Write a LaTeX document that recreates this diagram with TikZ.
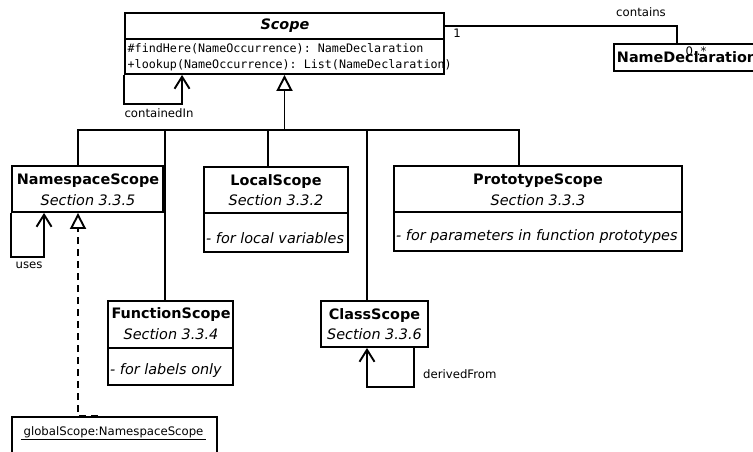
\documentclass[tikz,border=0pt]{standalone}
\usepackage{fontspec}
\setmainfont{DejaVu Sans}
\setmonofont{DejaVu Sans Mono}
\usetikzlibrary{arrows.meta,calc}
\begin{document}
\begin{tikzpicture}[x=1pt,y=-1pt,
  box/.style={draw,line width=1.9pt,rectangle,inner sep=0pt},
  ttl/.style={font=\fontsize{14.4}{16}\selectfont\bfseries, inner sep=0pt},
  sec/.style={font=\fontsize{14.4}{16}\selectfont\itshape, inner sep=0pt},
  note/.style={font=\fontsize{14.4}{16}\selectfont\itshape, inner sep=0pt, anchor=west},
  meth/.style={font=\fontsize{11.7}{13}\selectfont\ttfamily, inner sep=0pt, anchor=west},
  lbl/.style={font=\fontsize{11.7}{13}\selectfont, inner sep=0pt},
  conn/.style={line width=1.9pt},
  assoc/.style={conn, -{Straight Barb[length=12pt,width=15pt,line width=1.9pt]}},
  gen/.style={conn, -{Triangle[open,length=16pt,width=16pt,line width=1.9pt,fill=white]}},
  real/.style={gen, dash pattern=on 7pt off 5pt},
]
\useasboundingbox (0,0) rectangle (753,451);
\clip (0,0) rectangle (753,451);

% Scope
\node[box, minimum width=319pt, minimum height=61pt] (scope) at (284.5,43.5) {};
\draw[conn] (scope.west |- 0,39) -- (scope.east |- 0,39);
\node[ttl, font=\fontsize{14.4}{16}\selectfont\bfseries\itshape] (scopet) at (285,26) {Scope};
\node[meth] (m1) at (127.5,49) {\#findHere(NameOccurrence): NameDeclaration};
\node[meth] (m2) at (127.5,65) {+lookup(NameOccurrence): List(NameDeclaration)};

% NameDeclaration
\node[box, ttl, anchor=west, minimum height=27pt, inner xsep=3pt] (nd) at (613,57.5) {NameDeclaration};
\coordinate (scA) at ([yshift=17.5pt]scope.east);
\coordinate (ndA) at ([xshift=64pt]nd.north west);
\draw[conn] (scA) -| (ndA);
\node[lbl] (contains) at (641,12) {contains};
\node[lbl] (one) at (457,33) {1};
\node[lbl] (mult) at (696,51) {0..*};

% containedIn
\coordinate (ciA) at ([yshift=-29pt]scope.south west);
\coordinate (ciB) at ([xshift=58pt]scope.south west);
\draw[assoc] (scope.south west) -- (ciA) -| (ciB);
\node[lbl] (ci) at (159,113) {containedIn};

% NamespaceScope
\node[box, minimum width=151pt, minimum height=46pt] (ns) at (87.5,189) {};
\node[ttl] (nst) at (88,181) {NamespaceScope};
\node[sec] (nss) at (88,200) {Section 3.3.5};

% LocalScope
\node[box, minimum width=144pt, minimum height=85pt] (local) at (276,209.5) {};
\draw[conn] (local.west |- 0,213) -- (local.east |- 0,213);
\node[ttl] (lst) at (276,182) {LocalScope};
\node[sec] (lss) at (276,200) {Section 3.3.2};
\node[note] (lsn) at (206,238) {- for local variables};

% PrototypeScope
\node[box, minimum width=288pt, minimum height=85pt] (proto) at (538,208.5) {};
\draw[conn] (proto.west |- 0,212) -- (proto.east |- 0,212);
\node[ttl] (pst) at (538,181) {PrototypeScope};
\node[sec] (pss) at (538,200) {Section 3.3.3};
\node[note] (psn) at (396,237) {- for parameters in function prototypes};

% FunctionScope
\node[box, minimum width=125pt, minimum height=84pt] (func) at (170.5,343) {};
\draw[conn] (func.west |- 0,348) -- (func.east |- 0,348);
\node[ttl] (fst) at (171,315) {FunctionScope};
\node[sec] (fss) at (171,334) {Section 3.3.4};
\node[note] (fsn) at (110,371) {- for labels only};

% ClassScope
\node[box, minimum width=107pt, minimum height=46pt] (class) at (374.5,324) {};
\node[ttl] (cst) at (374.5,316) {ClassScope};
\node[sec] (css) at (374.5,334) {Section 3.3.6};

% generalization tree
\coordinate (hub) at (284.5,130);
\draw[gen] (hub) -- (scope.south);
\coordinate (nsT) at ([xshift=-9.5pt]ns.north);
\coordinate (prT) at ([xshift=-19pt]proto.north);
\coordinate (loT) at ([xshift=-8pt]local.north);
\coordinate (fuT) at ([xshift=-5.5pt]func.north);
\coordinate (clT) at ([xshift=-7.5pt]class.north);
\draw[conn] (nsT) |- (hub) -| (prT);
\draw[conn] (loT) -- (loT |- hub);
\draw[conn] (fuT) -- (fuT |- hub);
\draw[conn] (clT) -- (clT |- hub);

% uses
\coordinate (usA) at ([yshift=-44pt]ns.south west);
\coordinate (usB) at ([xshift=33pt]ns.south west);
\draw[assoc] (ns.south west) -- (usA) -| (usB);
\node[lbl] (uses) at (29,265) {uses};

% derivedFrom
\coordinate (dfA) at ([xshift=39.5pt]class.south);
\coordinate (dfM) at ([xshift=39.5pt,yshift=-39pt]class.south);
\coordinate (dfB) at ([xshift=-7.5pt]class.south);
\draw[assoc] (dfA) -- (dfM) -| (dfB);
\node[lbl, anchor=west] (df) at (423,374) {derivedFrom};

% globalScope
\node[box, minimum width=205pt, minimum height=60pt, anchor=north west] (gs) at (11,416) {};
\node[lbl] (gst) at (113.5,433) {\underline{\kern3pt globalScope:NamespaceScope\kern3pt}};
\coordinate (gsA) at ([xshift=87pt]gs.north west);
\coordinate (nsB) at ([xshift=-9.5pt]ns.south);
\draw[real] (gsA) -- (nsB |- gsA) -- (nsB);
\end{tikzpicture}
\end{document}
